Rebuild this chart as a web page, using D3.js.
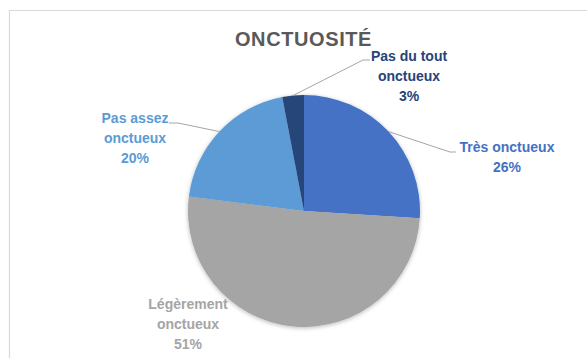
<!DOCTYPE html>
<html>
<head>
<meta charset="utf-8">
<script src="https://cdn.jsdelivr.net/npm/d3@7/dist/d3.min.js"></script>
<style>
  html, body { margin: 0; padding: 0; background: #ffffff; }
  svg { display: block; }
  text { font-family: "Liberation Sans", Arial, sans-serif; font-weight: bold; }
</style>
</head>
<body>
<svg id="chart" width="587" height="358"></svg>
<script>
// Survey answers on smoothness
const categories = ["Très onctueux", "Légèrement onctueux", "Pas assez onctueux", "Pas du tout onctueux"];
const values = [26, 51, 20, 3];
const colors = ["#4472C4", "#A5A5A5", "#5B9BD5", "#264478"];
// label lines (wrapped category name + percentage)
const labelLines = [
  ["Très onctueux"],
  ["Légèrement", "onctueux"],
  ["Pas assez", "onctueux"],
  ["Pas du tout", "onctueux"]
];
const title = "ONCTUOSITÉ";

const W = 587, H = 358;
const cx = 304, cy = 211, R = 116;

// label placement: centre x, first baseline y, and leader line (elbow, end) if any
const labelLayout = [
  { x: 507, y: 152, leader: [[450, 152], [456, 152]] },
  { x: 188, y: 309, leader: null },
  { x: 135, y: 123, leader: [[178, 123], [169, 123]] },
  { x: 409, y: 61,  leader: [[363, 60], [370, 60]] }
];
const lineGap = 20;

const svg = d3.select("#chart");

// chart frame
svg.append("path")
  .attr("d", `M9.5,${H + 2} V10.5 H${W + 2}`)
  .attr("fill", "none")
  .attr("stroke", "#D9D9D9")
  .attr("stroke-width", 1.2);

const defs = svg.append("defs");
const shadow = defs.append("filter").attr("id", "pieShadow")
  .attr("x", "-20%").attr("y", "-20%").attr("width", "140%").attr("height", "140%");
shadow.append("feDropShadow")
  .attr("dx", 0).attr("dy", 1).attr("stdDeviation", 2.2)
  .attr("flood-color", "#000").attr("flood-opacity", 0.28);

// title
svg.append("text")
  .attr("x", 303.5).attr("y", 46)
  .attr("text-anchor", "middle")
  .attr("font-size", 20)
  .attr("letter-spacing", 0.6)
  .attr("fill", "#595959")
  .text(title);

const pie = d3.pie().sort(null).value(d => d)(values);
const arc = d3.arc().innerRadius(0).outerRadius(R);

const g = svg.append("g").attr("transform", `translate(${cx},${cy})`);
g.append("g").attr("filter", "url(#pieShadow)")
  .selectAll("path")
  .data(pie)
  .join("path")
  .attr("d", arc)
  .attr("fill", (d, i) => colors[i]);

// leader lines from the slice's outer edge at mid-angle
pie.forEach((d, i) => {
  const lay = labelLayout[i];
  if (!lay.leader) return;
  const a = (d.startAngle + d.endAngle) / 2;
  const p0 = [cx + R * Math.sin(a), cy - R * Math.cos(a)];
  const pts = [p0, ...lay.leader];
  svg.append("path")
    .attr("d", d3.line()(pts))
    .attr("fill", "none")
    .attr("stroke", "#A6A6A6")
    .attr("stroke-width", 1);
});

// data labels
pie.forEach((d, i) => {
  const lay = labelLayout[i];
  const lines = [...labelLines[i], `${values[i]}%`];
  const t = svg.append("text")
    .attr("text-anchor", "middle")
    .attr("font-size", 14)
    .attr("fill", colors[i]);
  lines.forEach((s, k) => {
    t.append("tspan")
      .attr("x", lay.x)
      .attr("y", lay.y + k * lineGap)
      .text(s);
  });
});
</script>
</body>
</html>
